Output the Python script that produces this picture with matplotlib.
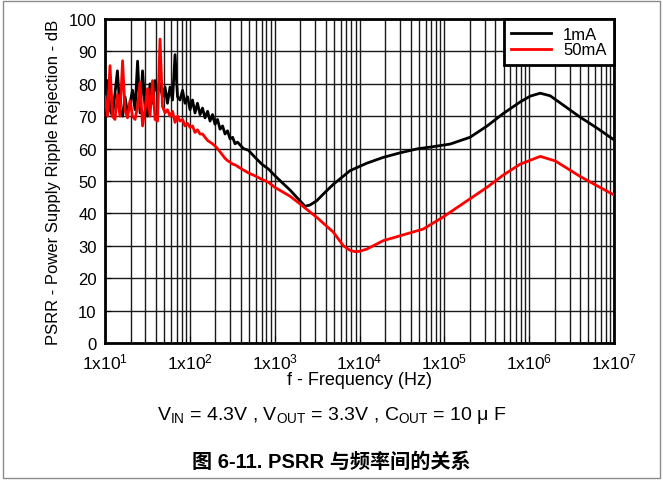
import matplotlib
matplotlib.use("Agg")
import matplotlib.pyplot as plt
import numpy as np
from matplotlib.ticker import LogLocator, FixedLocator, NullFormatter
from matplotlib.patches import Rectangle

plt.rcParams['font.family'] = ['Liberation Sans', 'Noto Sans CJK SC', 'DejaVu Sans']
plt.rcParams['mathtext.default'] = 'regular'

# low-frequency sweep points shared by both loads (noisy region)
f_low = [10, 10.7, 11.45, 12.25, 13.1, 14.0, 15.0, 16.1, 17.2, 18.4, 19.7, 21.1, 22.6,
         24.2, 25.9, 27.7, 29.6, 31.7, 33.9, 36.3, 38.9, 41.6, 44.5, 47.6, 51.0, 54.5,
         58.4, 62.5, 66.9, 71.6, 76.6, 82.0, 87.7, 93.9, 100.5, 107.5, 115, 123, 132,
         141, 151, 162, 173, 185, 198, 212, 227, 243, 260, 278, 298, 319, 341, 365]

# PSRR vs frequency, 1 mA load
psrr_1ma_low = [80, 81, 72, 70, 77, 84, 72, 70, 76, 71, 74, 78, 72,
                87, 71, 84, 73, 70, 80, 74, 81, 77, 80, 76, 79, 74,
                79, 75, 89, 76, 75, 78, 74, 76, 72, 75, 71, 74, 70.5,
                72.5, 69.5, 71.5, 68.5, 70.5, 67.5, 69, 66, 67, 64.5, 65.5, 63, 63.5, 61.5, 62]
f_1ma_high = [428, 490, 587, 705, 844, 1010, 1213, 1520, 1890, 2280, 2610, 3130, 3920,
              4920, 7740, 12200, 19100, 30100, 47400, 73800, 117000, 201000, 320000,
              493000, 783000, 1.03e6, 1.35e6, 1.77e6, 2.66e6, 3.99e6, 6.34e6, 1.0e7]
psrr_1ma_high = [60, 59.5, 57.3, 55.2, 53.7, 51.6, 49.6, 47.2, 44.5, 42.2, 42.6, 43.9, 46.5,
                 49, 53.2, 55.5, 57.3, 58.7, 59.9, 60.6, 61.4, 63.5, 67,
                 70.8, 74.4, 76.2, 77.1, 76.3, 73, 69.7, 66.3, 62.7]

# PSRR vs frequency, 50 mA load
psrr_50ma_low = [76, 70, 85.6, 70, 69, 76.7, 70, 87.1, 72, 69.5, 74.8, 70, 69,
                 73, 80.5, 67, 72, 78.5, 70, 81, 69, 68.5, 93.8, 73, 71, 72,
                 70, 71.5, 68.1, 70, 68.5, 69, 67, 67.8, 66.5, 67, 65, 65.8, 64.5,
                 64.5, 63.5, 62.5, 62, 61.5, 60.8, 60, 59, 58, 57, 56.3, 55.8, 55.2, 55, 54.5]
f_50ma_high = [409, 490, 587, 705, 844, 1010, 1520, 1994, 3130, 4920, 6460, 7740, 8870,
               10000, 12200, 19100, 30100, 56700, 96800, 176000, 320000, 493000, 783000,
               1.35e6, 2.03e6, 3.99e6, 6.34e6, 1.0e7]
psrr_50ma_high = [53.7, 52.5, 51.6, 50.5, 49.6, 48, 45.3, 42.9, 38.8, 34.2, 30, 28.6, 28.2,
                  28.3, 29, 31.6, 33.1, 35.2, 38.9, 43.5, 48.1, 51.8, 55.2,
                  57.6, 56.2, 51.4, 48.5, 45.7]

y_ticks = np.arange(0, 101, 10)
x_decades = [1e1, 1e2, 1e3, 1e4, 1e5, 1e6, 1e7]
x_tick_labels = ['1x10$^{%d}$' % int(np.log10(v)) for v in x_decades]

fig = plt.figure(figsize=(6.63, 4.81), dpi=100)
ax = fig.add_axes([0.1584, 0.2848, 0.7677, 0.6736])

ax.plot(f_low + f_1ma_high, psrr_1ma_low + psrr_1ma_high, color='black', lw=2,
        label='1mA', zorder=3)
ax.plot(f_low + f_50ma_high, psrr_50ma_low + psrr_50ma_high, color='#ff0000', lw=2,
        label='50mA', zorder=3)

ax.set_xscale('log')
ax.set_xlim(1e1, 1e7)
ax.set_ylim(0, 100)
ax.xaxis.set_major_locator(FixedLocator(x_decades))
ax.set_xticks(x_decades)
ax.set_xticklabels(x_tick_labels)
ax.xaxis.set_minor_locator(LogLocator(base=10, subs=np.arange(2, 10)))
ax.xaxis.set_minor_formatter(NullFormatter())
ax.set_yticks(y_ticks)

ax.grid(True, which='both', axis='x', color='0.1', lw=1)
ax.grid(True, which='major', axis='y', color='0.1', lw=1)
ax.set_axisbelow(True)

ax.tick_params(axis='both', which='both', direction='in', color='black')
ax.tick_params(axis='x', which='major', length=5, pad=6, labelsize=12.5)
ax.tick_params(axis='x', which='minor', length=3)
ax.tick_params(axis='y', length=4, pad=6, labelsize=12)
for sp in ax.spines.values():
    sp.set_linewidth(2)

ax.set_xlabel('f - Frequency (Hz)', fontsize=13, labelpad=0)
ax.set_ylabel('PSRR - Power Supply Ripple Rejection - dB', fontsize=12, labelpad=6)

leg = ax.legend(loc='upper right', fontsize=12, frameon=True, fancybox=False,
                borderaxespad=0, handlelength=2.4, borderpad=0.45, labelspacing=0.05,
                handletextpad=0.7, framealpha=1)
leg.get_frame().set_edgecolor('black')
leg.get_frame().set_linewidth(2)

fig.text(0.5, 0.137, 'V$_{IN}$ = 4.3V , V$_{OUT}$ = 3.3V , C$_{OUT}$ = 10 μ F',
         ha='center', va='center', fontsize=14)
fig.text(0.5, 0.04, '图 6-11. PSRR 与频率间的关系', ha='center', va='center',
         fontsize=14.5, fontweight='bold')

fig.patches.append(Rectangle((0.004, 0.004), 0.992, 0.992, transform=fig.transFigure,
                             fill=False, edgecolor='0.55', lw=1))

fig.savefig('out.png', dpi=100)
